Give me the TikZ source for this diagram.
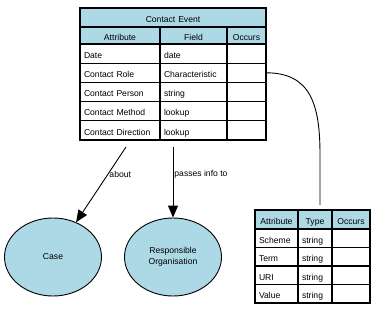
\documentclass[tikz,border=0pt]{standalone}
\usepackage{fontspec}
\setmainfont{Liberation Sans}
\usepackage{tikz}
\usetikzlibrary{positioning,arrows.meta,shapes.geometric,calc}
\definecolor{CellBlue}{HTML}{ADD8E6}

\begin{document}
\begin{tikzpicture}[x=1pt, y=-1pt,
  cell/.style={draw=black, line width=1.2pt, anchor=north west, inner xsep=4pt, inner ysep=0pt,
    outer sep=0pt, align=left, font=\fontsize{8.6}{10}\selectfont, minimum height=19.2pt,
    text height=9.5pt, text depth=0pt},
  hcell/.style={cell, fill=CellBlue, align=center},
  entity/.style={draw=black, line width=0.9pt, ellipse, fill=CellBlue, minimum width=97pt,
    minimum height=78pt, align=center, font=\fontsize{8.6}{11.5}\selectfont},
  rel/.style={-{Triangle[length=12pt,width=10pt]}, line width=0.9pt},
  lbl/.style={anchor=west, inner sep=1pt, font=\fontsize{8.6}{10}\selectfont}]
\useasboundingbox (0,0) rectangle (387,315);

% contact event table
\node[hcell, minimum width=186pt, text width=178pt, minimum height=19pt] (title) at (80,8) {Contact Event};
\node[hcell, minimum width=80pt, text width=72pt, minimum height=17pt] (ha) at (title.south west) {Attribute};
\node[hcell, minimum width=67pt, text width=59pt, minimum height=17pt] (hb) at (ha.north east) {Field};
\node[hcell, minimum width=39pt, text width=31pt, minimum height=17pt] (hc) at (hb.north east) {Occurs};

\node[cell, minimum width=80pt, text width=72pt] (r1a) at (ha.south west) {Date};
\node[cell, minimum width=67pt, text width=59pt] (r1b) at (r1a.north east) {date};
\node[cell, minimum width=39pt, text width=31pt] (r1c) at (r1b.north east) {};
\node[cell, minimum width=80pt, text width=72pt] (r2a) at (r1a.south west) {Contact Role};
\node[cell, minimum width=67pt, text width=59pt] (r2b) at (r2a.north east) {Characteristic};
\node[cell, minimum width=39pt, text width=31pt] (r2c) at (r2b.north east) {};
\node[cell, minimum width=80pt, text width=72pt] (r3a) at (r2a.south west) {Contact Person};
\node[cell, minimum width=67pt, text width=59pt] (r3b) at (r3a.north east) {string};
\node[cell, minimum width=39pt, text width=31pt] (r3c) at (r3b.north east) {};
\node[cell, minimum width=80pt, text width=72pt] (r4a) at (r3a.south west) {Contact Method};
\node[cell, minimum width=67pt, text width=59pt] (r4b) at (r4a.north east) {lookup};
\node[cell, minimum width=39pt, text width=31pt] (r4c) at (r4b.north east) {};
\node[cell, minimum width=80pt, text width=72pt] (r5a) at (r4a.south west) {Contact Direction};
\node[cell, minimum width=67pt, text width=59pt] (r5b) at (r5a.north east) {lookup};
\node[cell, minimum width=39pt, text width=31pt] (r5c) at (r5b.north east) {};

% characteristic table
\node[hcell, minimum width=43pt, text width=35pt, minimum height=19pt] (sa) at (255,210) {Attribute};
\node[hcell, minimum width=34pt, text width=26pt, minimum height=19pt] (sb) at (sa.north east) {Type};
\node[hcell, minimum width=38pt, text width=30pt, minimum height=19pt] (sc) at (sb.north east) {Occurs};

\node[cell, minimum width=43pt, text width=35pt, minimum height=18.5pt] (s1a) at (sa.south west) {Scheme};
\node[cell, minimum width=34pt, text width=26pt, minimum height=18.5pt] (s1b) at (s1a.north east) {string};
\node[cell, minimum width=38pt, text width=30pt, minimum height=18.5pt] (s1c) at (s1b.north east) {};
\node[cell, minimum width=43pt, text width=35pt, minimum height=18.5pt] (s2a) at (s1a.south west) {Term};
\node[cell, minimum width=34pt, text width=26pt, minimum height=18.5pt] (s2b) at (s2a.north east) {string};
\node[cell, minimum width=38pt, text width=30pt, minimum height=18.5pt] (s2c) at (s2b.north east) {};
\node[cell, minimum width=43pt, text width=35pt, minimum height=18.5pt] (s3a) at (s2a.south west) {URI};
\node[cell, minimum width=34pt, text width=26pt, minimum height=18.5pt] (s3b) at (s3a.north east) {string};
\node[cell, minimum width=38pt, text width=30pt, minimum height=18.5pt] (s3c) at (s3b.north east) {};
\node[cell, minimum width=43pt, text width=35pt, minimum height=18.5pt] (s4a) at (s3a.south west) {Value};
\node[cell, minimum width=34pt, text width=26pt, minimum height=18.5pt] (s4b) at (s4a.north east) {string};
\node[cell, minimum width=38pt, text width=30pt, minimum height=18.5pt] (s4c) at (s4b.north east) {};

% related entities
\node[entity] (case) at (53,257) {Case};
\node[entity] (org) at (173,257) {Responsible\\Organisation};

\coordinate (aboutfrom) at ($(r5a.south east)+(-34,7)$);
\coordinate (infofrom) at ($(r5b.south west)+(13,7)$);
\coordinate (subtop) at ($(sb.north east)+(-12,-5)$);

\draw[rel] (aboutfrom) -- node[lbl, pos=0.36] {about} (case);
\draw[rel] (infofrom) -- node[lbl, pos=0.38] {passes info to} (org);
\draw[line width=0.9pt] (r2c.east) .. controls +(45,0) and +(0,-50) .. ($(subtop)+(0,-50)$) -- (subtop);
\end{tikzpicture}
\end{document}
